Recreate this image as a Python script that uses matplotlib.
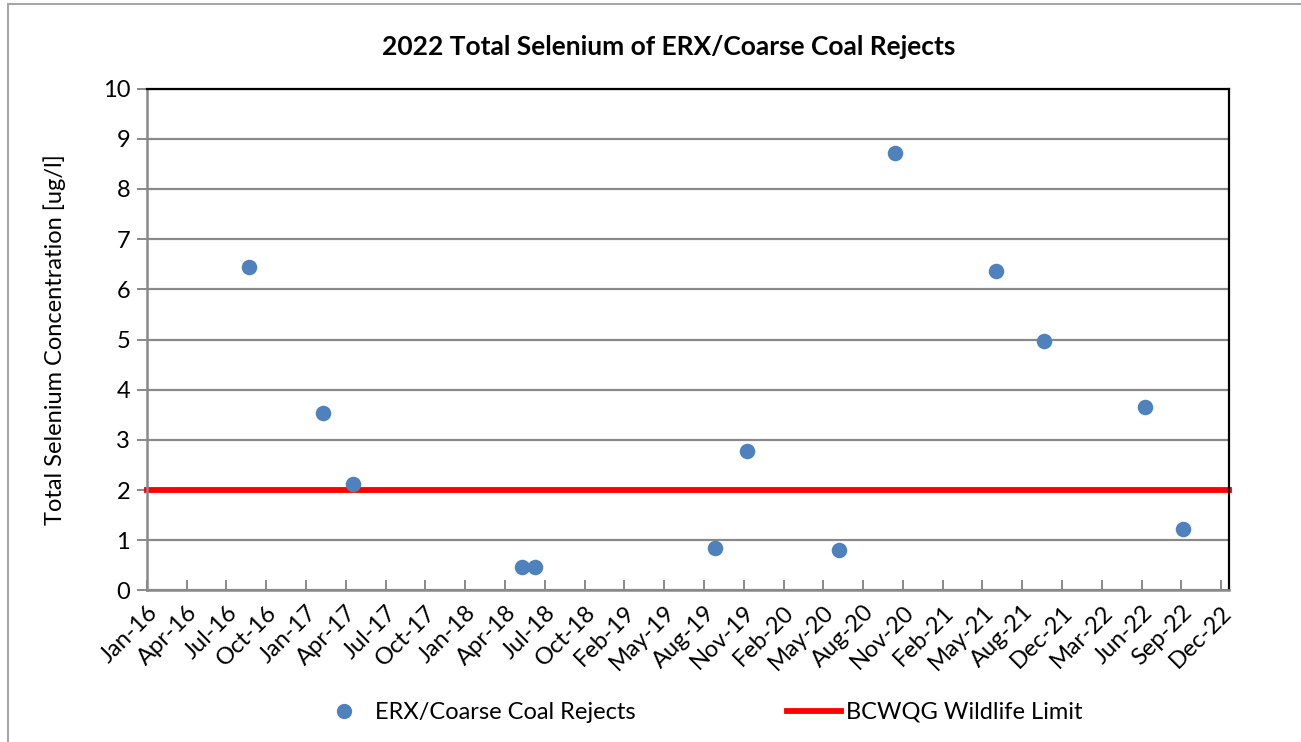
import datetime as dt

import matplotlib
matplotlib.use("Agg")
import matplotlib.pyplot as plt
import matplotlib.dates as mdates
from matplotlib.lines import Line2D
from matplotlib.patches import Rectangle

# ---- data ----
sample_dates = ["2016-08-30", "2017-02-20", "2017-05-03", "2018-06-05", "2018-07-05",
                "2019-09-05", "2019-11-19", "2020-06-24", "2020-11-02", "2021-06-29",
                "2021-10-20", "2022-06-15", "2022-09-14"]
selenium_ugl = [6.45, 3.54, 2.13, 0.47, 0.47, 0.84, 2.78, 0.81, 8.72, 6.36, 4.98, 3.65, 1.23]
wildlife_limit = 2.0
y_ticks = list(range(0, 11))

title = "2022 Total Selenium of ERX/Coarse Coal Rejects"
ylabel = "Total Selenium Concentration [ug/l]"
series_label = "ERX/Coarse Coal Rejects"
limit_label = "BCWQG Wildlife Limit"

plt.rcParams["font.family"] = ["Lato", "DejaVu Sans"]

dates = [dt.datetime.strptime(d, "%Y-%m-%d") for d in sample_dates]
x_start = dt.datetime(2016, 1, 1)
x_end = dt.datetime(2023, 1, 1)
# Excel-style date axis: a tick every 94 days from the axis minimum
x_ticks = []
t = x_start
while t <= x_end:
    x_ticks.append(t)
    t += dt.timedelta(days=94)

fig = plt.figure(figsize=(13.01, 7.42), dpi=100)
ax = fig.add_axes([0.1128, 0.2042, 0.8321, 0.6765])

grid_c = "#898989"
fs = 17
ax.set_ylim(0, 10)
ax.set_xlim(x_start, x_end)
ax.set_yticks(y_ticks)
ax.grid(axis="y", color=grid_c, lw=1.6)
ax.set_axisbelow(True)

ax.axhline(wildlife_limit, color="#FF0000", lw=4.2, zorder=2, clip_on=False)
ax.scatter(dates, selenium_ugl, s=125, color="#4F81BD", zorder=3, linewidths=0)

ax.set_xticks(x_ticks)
ax.xaxis.set_major_formatter(mdates.DateFormatter("%b-%y"))
ax.tick_params(axis="x", direction="in", length=7, width=1.4, color=grid_c,
               labelsize=fs, pad=8)
ax.tick_params(axis="y", direction="out", length=7, width=1.4, color=grid_c,
               labelsize=fs, pad=5)
for lbl in ax.get_xticklabels():
    lbl.set_rotation(45)
    lbl.set_ha("right")
    lbl.set_rotation_mode("anchor")

for side in ("left", "bottom"):
    ax.spines[side].set_color(grid_c)
    ax.spines[side].set_linewidth(1.8)
for side in ("top", "right"):
    ax.spines[side].set_color("black")
    ax.spines[side].set_linewidth(1.6)

ax.set_ylabel(ylabel, fontsize=fs, labelpad=26)
fig.text(0.514, 0.936, title, ha="center", va="center", fontsize=19, fontweight="bold")

handles = [Line2D([], [], ls="none", marker="o", ms=11, color="#4F81BD", mec="none"),
           Line2D([], [], color="#FF0000", lw=4.2)]
fig.legend(handles, [series_label, limit_label], ncol=2, loc="center",
           bbox_to_anchor=(0.5377, 0.04), frameon=False, fontsize=fs,
           handlelength=2.3, handletextpad=0.2, columnspacing=6.4)

# outer chart-area border
fig.patches.append(Rectangle((8 / 1301, -0.05), 1.05, 1 - 4 / 742 + 0.05,
                             transform=fig.transFigure, fill=False,
                             edgecolor="#A6A6A6", lw=1.5))

fig.savefig("out.png", dpi=100)
